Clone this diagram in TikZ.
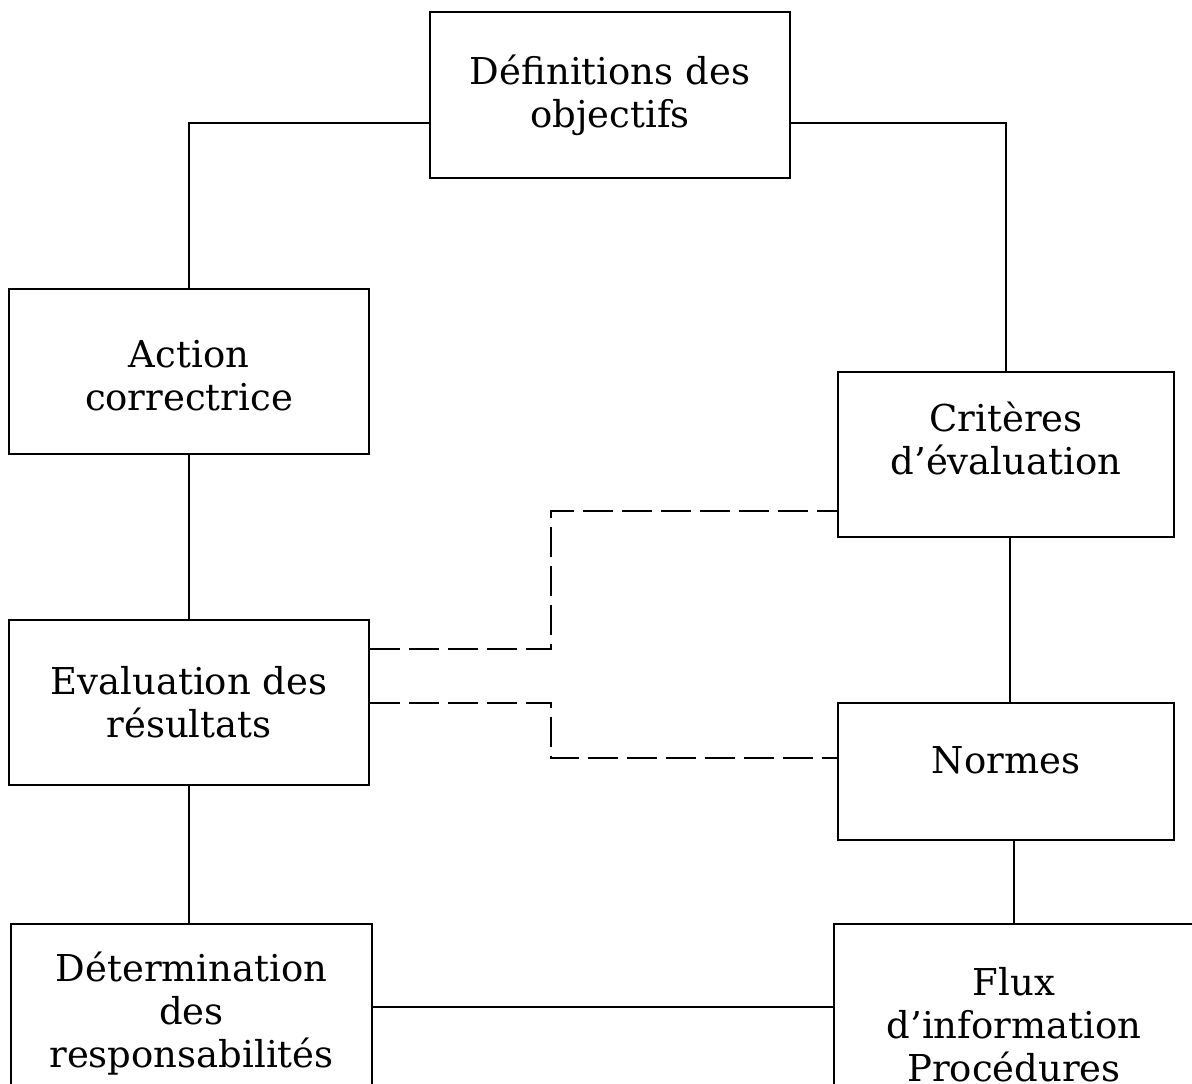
\documentclass[tikz,border=0pt]{standalone}
\usepackage{fontspec}
\setmainfont{DejaVu Serif}
\usepackage{xcolor}
\definecolor{boxline}{HTML}{000000}

\begin{document}
\begin{tikzpicture}[x=0.5pt,y=0.5pt,line width=1pt,
    every node/.style={font=\fontsize{18.5}{21.5}\selectfont},
    box/.style={draw=boxline,align=center,inner sep=0pt,minimum width=180pt,minimum height=82.5pt},
    boxtext/.style={align=center,inner sep=0pt},
    dashline/.style={draw=boxline,dash pattern=on 15pt off 4.5pt}]
    \useasboundingbox (0,0) rectangle (1192,1083);
    % boxes
    \node[box,minimum height=83pt] (def) at (610,988) {Définitions des\\objectifs};
    \node[box,label={[boxtext,yshift=-2.25pt]center:Action\\correctrice}] (act) at (189,711.5) {};
    \node[box,minimum width=168pt,label={[boxtext,yshift=8pt]center:Critères\\d’évaluation}] (crit) at (1006,628.5) {};
    \node[box] (eval) at (189,380.5) {Evaluation des\\résultats};
    \node[box,minimum width=168pt,minimum height=68.5pt,label={[boxtext,yshift=5.5pt]center:Normes}] (norm) at (1006,311.5) {};
    \node[box,minimum width=180.5pt,minimum height=90pt] (det) at (191.5,69) {Détermination\\des\\responsabilités};
    \node[box,minimum height=101pt] (flux) at (1014,58) {Flux\\d’information\\Procédures};
    % links
    \draw ([yshift=-14pt]def.west) -| (act.north);
    \draw ([yshift=-14pt]def.east) -| (crit.north);
    \draw (act) -- (eval);
    \draw ([xshift=2pt]crit.south) -- ([xshift=2pt]norm.north);
    \draw (eval.south) -- (eval.south |- det.north);
    \draw (flux.north) -- (flux.north |- norm.south);
    \draw ([yshift=3.5pt]det.east) -- ([yshift=9pt]flux.west);
    % dashed links
    \draw[dashline] ([yshift=27pt]eval.east) -- ++(181,0) |- ([yshift=-28pt]crit.west);
    \draw[dashline] (eval.east) -- ++(181,0) |- ([yshift=6.75pt]norm.west);
\end{tikzpicture}
\end{document}
